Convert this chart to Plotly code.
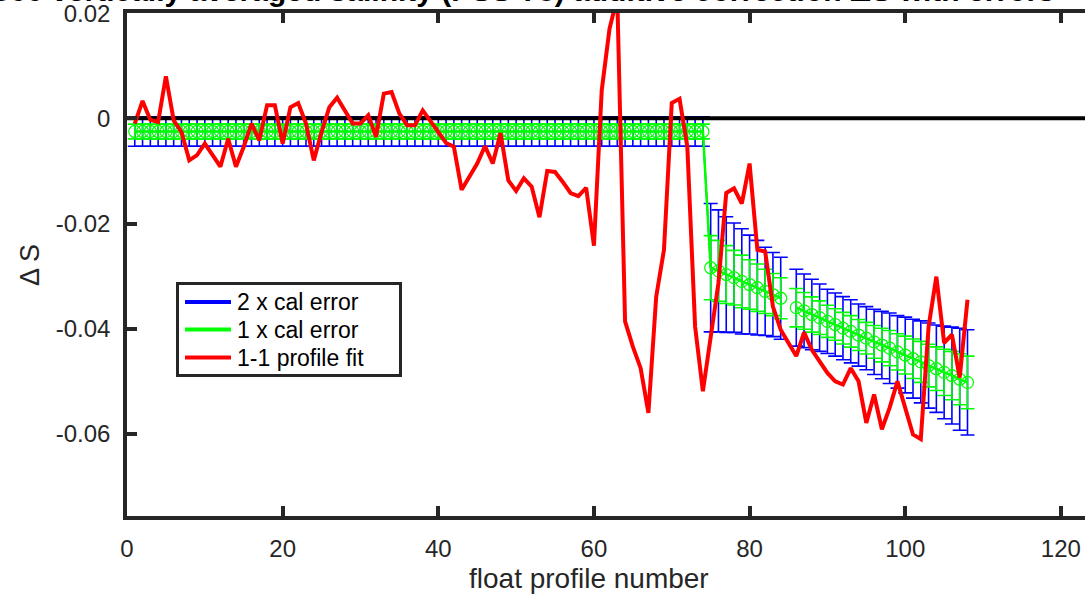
import plotly.graph_objects as go

# ---------------------------------------------------------------------------
# Data
# ---------------------------------------------------------------------------
profile_no = list(range(1, 109))

# 1-1 profile fit of the salinity offset (red)
profile_fit = [
    -0.0010, 0.0033, -0.0003, -0.0007, 0.0080, -0.0004, -0.0026, -0.0080, -0.0070, -0.0048,
    -0.0070, -0.0092, -0.0039, -0.0092, -0.0054, -0.0010, -0.0042, 0.0025, 0.0025, -0.0048,
    0.0021, 0.0029, -0.0010, -0.0080, -0.0026, 0.0021, 0.0039, 0.0015, -0.0010, -0.0010,
    0.0006, -0.0035, 0.0047, 0.0050, 0.0009, -0.0013, -0.0013, 0.0015, -0.0004, -0.0026,
    -0.0047, -0.0054, -0.0136, -0.0111, -0.0086, -0.0053, -0.0086, -0.0028, -0.0118, -0.0138,
    -0.0114, -0.0130, -0.0188, -0.0100, -0.0102, -0.0121, -0.0142, -0.0148, -0.0132, -0.0242,
    0.0053, 0.0170, 0.0230, -0.0386, -0.0434, -0.0475, -0.0560, -0.0339, -0.0250, 0.0029,
    0.0037, -0.0054, -0.0396, -0.0519, -0.0415, -0.0313, -0.0142, -0.0133, -0.0162, -0.0086,
    -0.0250, -0.0253, -0.0358, -0.0402, -0.0427, -0.0452, -0.0407, -0.0440, -0.0462, -0.0484,
    -0.0500, -0.0506, -0.0475, -0.0500, -0.0579, -0.0525, -0.0591, -0.0550, -0.0500, -0.0554,
    -0.0601, -0.0610, -0.0396, -0.0301, -0.0427, -0.0411, -0.0493, -0.0345,
]

# vertically averaged additive correction (mean of the fit), profile 85 has no value
avg_offset = [
    -0.0025, -0.0025, -0.0025, -0.0025, -0.0025, -0.0025, -0.0025, -0.0025, -0.0025, -0.0025,
    -0.0025, -0.0025, -0.0025, -0.0025, -0.0025, -0.0025, -0.0025, -0.0025, -0.0025, -0.0025,
    -0.0025, -0.0025, -0.0025, -0.0025, -0.0025, -0.0025, -0.0025, -0.0025, -0.0025, -0.0025,
    -0.0025, -0.0025, -0.0025, -0.0025, -0.0025, -0.0025, -0.0025, -0.0025, -0.0025, -0.0025,
    -0.0025, -0.0025, -0.0025, -0.0025, -0.0025, -0.0025, -0.0025, -0.0025, -0.0025, -0.0025,
    -0.0025, -0.0025, -0.0025, -0.0025, -0.0025, -0.0025, -0.0025, -0.0025, -0.0025, -0.0025,
    -0.0025, -0.0025, -0.0025, -0.0025, -0.0025, -0.0025, -0.0025, -0.0025, -0.0025, -0.0025,
    -0.0025, -0.0025, -0.0025, -0.0025, -0.0284, -0.0290, -0.0297, -0.0303, -0.0310, -0.0316,
    -0.0322, -0.0329, -0.0335, -0.0342, None, -0.0360, -0.0366, -0.0373, -0.0379, -0.0386,
    -0.0392, -0.0399, -0.0405, -0.0412, -0.0418, -0.0425, -0.0431, -0.0437, -0.0444, -0.0450,
    -0.0457, -0.0463, -0.0470, -0.0476, -0.0483, -0.0489, -0.0496, -0.0502,
]

# calibration error (1 x)
cal_err = [
    0.0014, 0.0014, 0.0014, 0.0014, 0.0014, 0.0014, 0.0014, 0.0014, 0.0014, 0.0014,
    0.0014, 0.0014, 0.0014, 0.0014, 0.0014, 0.0014, 0.0014, 0.0014, 0.0014, 0.0014,
    0.0014, 0.0014, 0.0014, 0.0014, 0.0014, 0.0014, 0.0014, 0.0014, 0.0014, 0.0014,
    0.0014, 0.0014, 0.0014, 0.0014, 0.0014, 0.0014, 0.0014, 0.0014, 0.0014, 0.0014,
    0.0014, 0.0014, 0.0014, 0.0014, 0.0014, 0.0014, 0.0014, 0.0014, 0.0014, 0.0014,
    0.0014, 0.0014, 0.0014, 0.0014, 0.0014, 0.0014, 0.0014, 0.0014, 0.0014, 0.0014,
    0.0014, 0.0014, 0.0014, 0.0014, 0.0014, 0.0014, 0.0014, 0.0014, 0.0014, 0.0014,
    0.0014, 0.0014, 0.0014, 0.0014, 0.0061, 0.0058, 0.0055, 0.0052, 0.0050, 0.0047,
    0.0045, 0.0042, 0.0040, 0.0039, None, 0.00365, 0.0035, 0.00335, 0.0032, 0.00305,
    0.0030, 0.0030, 0.0030, 0.00295, 0.0030, 0.0031, 0.0032, 0.00335, 0.00345, 0.0036,
    0.00375, 0.0039, 0.00405, 0.00415, 0.0044, 0.0046, 0.00485, 0.0050,
]
cal_err_2x = [None if e is None else 2 * e for e in cal_err]

legend_names = ["2 x cal error", "1 x cal error", "1-1 profile fit"]

x_range = [0, 123.1]
y_range = [-0.0756, 0.02002]
x_ticks = [0, 20, 40, 60, 80, 100, 120]
y_ticks = [0.02, 0, -0.02, -0.04, -0.06]
y_tick_text = ["0.02", "0", "-0.02", "-0.04", "-0.06"]

float_name = "3901866"
title_text = (float_name + " vertically averaged salinity (PSS-78) additive correction "
              "\u0394S with errors")

# ---------------------------------------------------------------------------
# Figure
# ---------------------------------------------------------------------------
FONT = "Liberation Sans, Arial, Helvetica, sans-serif"
AX = "#262626"
BLUE = "#0000ff"
GREEN = "#00ff00"
RED = "#ff0000"
legend_colors = [BLUE, GREEN, RED]

W, H = 1085, 594
L, R, T, B = 127, 0, 13, 78
PW, PH = W - L - R, H - T - B


def px(xp):
    """page pixel -> paper x"""
    return (xp - L) / PW


def py(yp):
    """page pixel -> paper y"""
    return 1 - (yp - T) / PH


fig = go.Figure()

# 2 x cal error bars
fig.add_trace(go.Scatter(
    x=profile_no, y=avg_offset, mode="lines",
    line=dict(color=BLUE, width=1.6),
    error_y=dict(type="data", array=cal_err_2x, visible=True,
                 color=BLUE, thickness=1.6, width=7),
    name=legend_names[0], showlegend=False, hoverinfo="skip",
))

# 1 x cal error bars with the mean correction
fig.add_trace(go.Scatter(
    x=profile_no, y=avg_offset, mode="lines+markers",
    line=dict(color=GREEN, width=2.5),
    marker=dict(symbol="circle-open", size=12, color=GREEN, line=dict(width=1.2)),
    error_y=dict(type="data", array=cal_err, visible=True,
                 color=GREEN, thickness=1.6, width=7),
    name=legend_names[1], showlegend=False, hoverinfo="skip",
))

# zero reference line across the axes
fig.add_trace(go.Scatter(
    x=x_range, y=[0, 0], mode="lines",
    line=dict(color="#000000", width=4),
    showlegend=False, hoverinfo="skip",
))

# 1-1 profile fit
fig.add_trace(go.Scatter(
    x=profile_no, y=profile_fit, mode="lines",
    line=dict(color=RED, width=4),
    name=legend_names[2], showlegend=False, hoverinfo="skip",
))

# boxed legend in the lower left of the axes
shapes = [dict(type="rect", xref="paper", yref="paper",
               x0=px(177.5), x1=px(400.5), y0=py(375.5), y1=py(283.5),
               line=dict(color=AX, width=3), fillcolor="white", layer="above")]
annotations = []
row_y = [302, 329.5, 357.5]
for name, col, yy in zip(legend_names, legend_colors, row_y):
    shapes.append(dict(type="line", xref="paper", yref="paper",
                       x0=px(185), x1=px(231), y0=py(yy), y1=py(yy),
                       line=dict(color=col, width=4), layer="above"))
    annotations.append(dict(text=name, xref="paper", yref="paper",
                            x=px(235), y=py(yy), xanchor="left", yanchor="middle",
                            showarrow=False,
                            font=dict(family=FONT, size=23, color="#000000")))

# title (runs past the top edge of the page)
annotations.append(dict(
    text="<b>" + title_text + "</b>", xref="paper", yref="paper",
    x=px(490), y=py(9), xanchor="center", yanchor="bottom", showarrow=False,
    font=dict(family=FONT, size=30, color="#000000"),
))
# axis labels
annotations.append(dict(
    text="float profile number", xref="paper", yref="paper",
    x=px(589), y=py(578), xanchor="center", yanchor="middle", showarrow=False,
    font=dict(family=FONT, size=28, color=AX),
))
annotations.append(dict(
    text="\u0394 S", xref="paper", yref="paper", textangle=-90,
    x=px(30), y=py(265), xanchor="center", yanchor="middle", showarrow=False,
    font=dict(family=FONT, size=27, color=AX),
))

fig.update_layout(
    width=W, height=H,
    margin=dict(l=L, r=R, t=T, b=B, pad=0),
    paper_bgcolor="white", plot_bgcolor="white",
    font=dict(family=FONT, color=AX, size=24),
    showlegend=False,
    xaxis=dict(
        range=x_range, tickvals=x_ticks, ticks="inside", ticklen=10, tickwidth=3.5,
        tickcolor=AX, showline=True, linecolor=AX, linewidth=3.5, mirror="ticks",
        showgrid=False, zeroline=False, ticklabeloverflow="allow",
        tickfont=dict(size=24, color=AX), ticklabelstandoff=8,
    ),
    yaxis=dict(
        range=y_range, tickvals=y_ticks, ticktext=y_tick_text, ticks="inside",
        ticklen=10, tickwidth=3.5, tickcolor=AX, showline=True, linecolor=AX,
        linewidth=3.5, mirror=False, showgrid=False, zeroline=False,
        ticklabeloverflow="allow",
        tickfont=dict(size=24, color=AX), ticklabelstandoff=8,
    ),
    yaxis2=dict(
        range=y_range, overlaying="y", side="right", tickvals=y_ticks,
        ticks="inside", ticklen=5, tickwidth=3.5, tickcolor=AX,
        showline=False, showgrid=False, zeroline=False, showticklabels=False,
    ),
    shapes=shapes,
    annotations=annotations,
)

fig.write_html("out.html")
